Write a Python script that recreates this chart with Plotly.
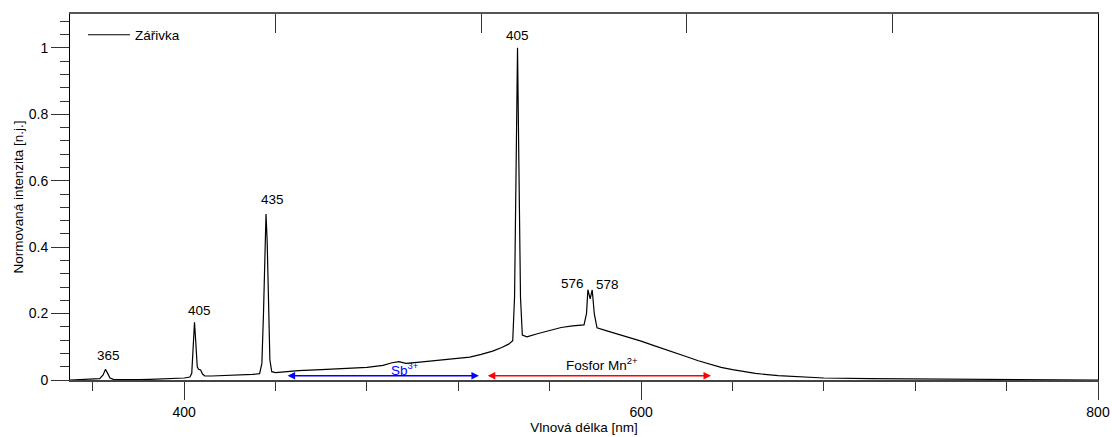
import plotly.graph_objects as go

# Spectrum
wavelength = [350, 355, 360, 363, 364.5, 365.5, 366.5, 367.5, 369, 375, 380, 385, 390, 395, 400,
              402.5, 403.3, 404, 404.5, 405.1, 405.7, 406.3, 407.2, 408, 409, 412, 418, 425, 430,
              433, 434, 434.7, 435.3, 435.8, 436.3, 436.9, 437.5, 438.3, 440, 445, 450, 460, 470,
              480, 487, 491, 494, 497, 502, 510, 518, 525, 530, 535, 539, 542, 543.8, 544.6, 545.3,
              545.9, 546.5, 547.2, 548, 550, 555, 560, 565, 570, 575, 576.1, 576.7, 577.7, 578.6,
              579.5, 580.7, 585, 590, 595, 600, 605, 610, 615, 620, 625, 630, 635, 640, 645, 650,
              660, 670, 680, 700, 720, 750, 780, 800]
intensity = [0.0, 0.001, 0.002, 0.004, 0.015, 0.032, 0.02, 0.006, 0.002, 0.001, 0.001, 0.002, 0.003,
             0.004, 0.006, 0.009, 0.02, 0.11, 0.174, 0.11, 0.04, 0.032, 0.03, 0.018, 0.012, 0.012,
             0.013, 0.015, 0.017, 0.019, 0.05, 0.2, 0.42, 0.5, 0.42, 0.2, 0.06, 0.025, 0.022, 0.025,
             0.028, 0.031, 0.034, 0.038, 0.044, 0.052, 0.055, 0.05, 0.053, 0.058, 0.063, 0.069,
             0.077, 0.087, 0.098, 0.108, 0.118, 0.25, 0.65, 1.0, 0.65, 0.25, 0.135, 0.13, 0.14,
             0.15, 0.158, 0.163, 0.166, 0.2, 0.272, 0.244, 0.271, 0.2, 0.157, 0.148, 0.138, 0.127,
             0.117, 0.105, 0.094, 0.082, 0.07, 0.058, 0.047, 0.038, 0.031, 0.025, 0.02, 0.013,
             0.009, 0.006, 0.004, 0.003, 0.002, 0.001, 0.0]

# Peak labels
peak_labels = ["365", "405", "435", "405", "576", "578"]
peak_x = [366.7, 406.6, 438.5, 546.0, 569.8, 585.1]
peak_y = [0.075, 0.208, 0.542, 1.036, 0.292, 0.289]

# Range arrows
sb_range = [444.6, 529.0]
mn_range = [532.2, 630.6]
arrow_level = 0.013

FONT = "Arial, 'Liberation Sans', sans-serif"
FS = 13.5

fig = go.Figure()
fig.add_trace(go.Scatter(x=wavelength, y=intensity, mode="lines", name="Zářivka",
                         line=dict(color="black", width=1.2)))
fig.add_trace(go.Scatter(x=wavelength, y=intensity, mode="lines", xaxis="x2",
                         line=dict(color="rgba(0,0,0,0)", width=0), showlegend=False,
                         hoverinfo="skip"))

annotations = []
for t, x, y in zip(peak_labels, peak_x, peak_y):
    annotations.append(dict(x=x, y=y, text=t, showarrow=False, xref="x", yref="y",
                            font=dict(family=FONT, size=FS, color="black")))

annotations.append(dict(x=sb_range[1], y=arrow_level, ax=sb_range[0], ay=arrow_level,
                        xref="x", yref="y", axref="x", ayref="y", text="", showarrow=True,
                        arrowhead=2, startarrowhead=2, arrowside="end+start", arrowsize=1,
                        startarrowsize=1, arrowwidth=1.5, arrowcolor="blue",
                        standoff=0, startstandoff=0))
annotations.append(dict(x=mn_range[1], y=arrow_level, ax=mn_range[0], ay=arrow_level,
                        xref="x", yref="y", axref="x", ayref="y", text="", showarrow=True,
                        arrowhead=2, startarrowhead=2, arrowside="end+start", arrowsize=1,
                        startarrowsize=1, arrowwidth=1.5, arrowcolor="red",
                        standoff=0, startstandoff=0))
annotations.append(dict(x=496.5, y=0.034, text="Sb<sup>3+</sup>", showarrow=False,
                        font=dict(family=FONT, size=FS, color="blue")))
annotations.append(dict(x=582.8, y=0.047, text="Fosfor Mn<sup>2+</sup>", showarrow=False,
                        font=dict(family=FONT, size=FS, color="black")))

fig.update_layout(
    width=1112, height=437,
    margin=dict(l=70, r=14, t=14, b=57),
    paper_bgcolor="white", plot_bgcolor="white",
    font=dict(family=FONT, size=FS, color="black"),
    showlegend=True,
    legend=dict(x=0.0126, y=0.985, xanchor="left", yanchor="top", itemwidth=42,
                bgcolor="rgba(0,0,0,0)", font=dict(family=FONT, size=FS)),
    annotations=annotations,
    xaxis=dict(range=[350, 800], tick0=0, dtick=200, ticks="outside", ticklen=18,
               tickcolor="#333", showline=True, linecolor="#444", linewidth=1.5,
               showgrid=False, zeroline=False, automargin=False,
               tickfont=dict(family=FONT, size=14),
               minor=dict(dtick=40, tick0=0, ticks="outside", ticklen=9, tickcolor="#333"),
               title=dict(text="Vlnová délka [nm]", font=dict(family=FONT, size=13.5), standoff=4)),
    xaxis2=dict(range=[350, 800], overlaying="x", side="top", anchor="y", automargin=False,
                tickvals=[440, 530, 620, 710], ticks="inside", ticklen=19, tickcolor="#333",
                showticklabels=False, showline=True, linecolor="#555", linewidth=2,
                showgrid=False, zeroline=False),
    yaxis=dict(range=[0, 1.102], tick0=0, dtick=0.2, ticks="outside", ticklen=18,
               tickcolor="#333", showline=True, linecolor="black", linewidth=1, mirror=True,
               showgrid=False, zeroline=False, automargin=False,
               tickfont=dict(family=FONT, size=14),
               minor=dict(dtick=0.04, tick0=0, ticks="outside", ticklen=9, tickcolor="#333"),
               title=dict(text="Normovaná intenzita [n.j.]", font=dict(family=FONT, size=13.5),
                          standoff=2)),
)

fig.write_html("out.html", config={"displayModeBar": False},
               post_script="document.body.style.margin='0px';document.body.style.padding='0px';")
